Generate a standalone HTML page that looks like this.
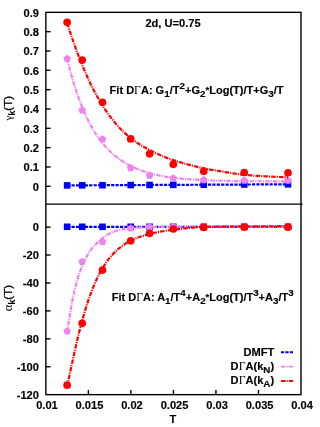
<!DOCTYPE html>
<html><head><meta charset="utf-8"><title>plot</title>
<style>
html,body{margin:0;padding:0;background:#fff;width:320px;height:427px;overflow:hidden}
.t{font-family:"Liberation Sans",sans-serif;font-weight:bold;font-size:11.1px;fill:#000;stroke:#000;stroke-width:0.15px}
.g{font-family:"Liberation Serif",serif;font-weight:normal;font-size:11.8px;stroke:none}
.gy{font-family:"Liberation Serif",serif;font-weight:normal;font-size:11.2px;stroke:none}
.s{font-size:9.9px}
.sk{font-size:8.7px}
.n{font-weight:normal;stroke-width:0.25px;font-size:11.6px}
</style></head><body>
<div style="position:absolute;left:0;top:0;width:320px;height:427px;will-change:transform">
<svg width="320" height="427" viewBox="0 0 320 427" style="position:absolute;left:0;top:0">
<rect width="320" height="427" fill="#fff"/>
<path d="M67.15,185.40 L68.54,185.39 L69.93,185.39 L71.32,185.38 L72.71,185.37 L74.09,185.37 L75.48,185.36 L76.87,185.35 L78.26,185.34 L79.65,185.34 L81.04,185.33 L82.43,185.32 L83.82,185.32 L85.21,185.31 L86.60,185.30 L87.98,185.30 L89.37,185.29 L90.76,185.28 L92.15,185.27 L93.54,185.27 L94.93,185.26 L96.32,185.25 L97.71,185.25 L99.10,185.24 L100.49,185.23 L101.87,185.23 L103.26,185.22 L104.65,185.21 L106.04,185.21 L107.43,185.20 L108.82,185.19 L110.21,185.18 L111.60,185.18 L112.99,185.17 L114.38,185.16 L115.76,185.16 L117.15,185.15 L118.54,185.14 L119.93,185.14 L121.32,185.13 L122.71,185.12 L124.10,185.12 L125.49,185.11 L126.88,185.10 L128.27,185.09 L129.65,185.09 L131.04,185.08 L132.43,185.07 L133.82,185.07 L135.21,185.06 L136.60,185.05 L137.99,185.05 L139.38,185.04 L140.77,185.03 L142.16,185.02 L143.54,185.02 L144.93,185.01 L146.32,185.00 L147.71,185.00 L149.10,184.99 L150.49,184.98 L151.88,184.98 L153.27,184.97 L154.66,184.96 L156.05,184.96 L157.43,184.95 L158.82,184.94 L160.21,184.93 L161.60,184.93 L162.99,184.92 L164.38,184.91 L165.77,184.91 L167.16,184.90 L168.55,184.89 L169.94,184.89 L171.32,184.88 L172.71,184.87 L174.10,184.87 L175.49,184.86 L176.88,184.85 L178.27,184.84 L179.66,184.84 L181.05,184.83 L182.44,184.82 L183.83,184.82 L185.21,184.81 L186.60,184.80 L187.99,184.80 L189.38,184.79 L190.77,184.78 L192.16,184.77 L193.55,184.77 L194.94,184.76 L196.33,184.75 L197.72,184.75 L199.10,184.74 L200.49,184.73 L201.88,184.73 L203.27,184.72 L204.66,184.71 L206.05,184.71 L207.44,184.70 L208.83,184.69 L210.22,184.68 L211.61,184.68 L212.99,184.67 L214.38,184.66 L215.77,184.66 L217.16,184.65 L218.55,184.64 L219.94,184.64 L221.33,184.63 L222.72,184.62 L224.11,184.62 L225.50,184.61 L226.88,184.60 L228.27,184.59 L229.66,184.59 L231.05,184.58 L232.44,184.57 L233.83,184.57 L235.22,184.56 L236.61,184.55 L238.00,184.55 L239.39,184.54 L240.77,184.53 L242.16,184.52 L243.55,184.52 L244.94,184.51 L246.33,184.50 L247.72,184.50 L249.11,184.49 L250.50,184.48 L251.89,184.48 L253.28,184.47 L254.66,184.46 L256.05,184.46 L257.44,184.45 L258.83,184.44 L260.22,184.43 L261.61,184.43 L263.00,184.42 L264.39,184.41 L265.78,184.41 L267.17,184.40 L268.55,184.39 L269.94,184.39 L271.33,184.38 L272.72,184.37 L274.11,184.37 L275.50,184.36 L276.89,184.35 L278.28,184.34 L279.67,184.34 L281.06,184.33 L282.44,184.32 L283.83,184.32 L285.22,184.31 L286.61,184.30 L288.00,184.30" fill="none" stroke="#0000ff" stroke-width="2.2" stroke-dasharray="3.2 1.2"/>
<rect x="63.85" y="182.10" width="6.60" height="6.60" fill="#0000ff"/>
<rect x="78.90" y="182.02" width="6.60" height="6.60" fill="#0000ff"/>
<rect x="99.20" y="181.92" width="6.60" height="6.60" fill="#0000ff"/>
<rect x="127.40" y="181.78" width="6.60" height="6.60" fill="#0000ff"/>
<rect x="146.30" y="181.69" width="6.60" height="6.60" fill="#0000ff"/>
<rect x="170.00" y="181.57" width="6.60" height="6.60" fill="#0000ff"/>
<rect x="200.45" y="181.42" width="6.60" height="6.60" fill="#0000ff"/>
<rect x="240.95" y="181.21" width="6.60" height="6.60" fill="#0000ff"/>
<rect x="284.70" y="181.00" width="6.60" height="6.60" fill="#0000ff"/>
<path d="M67.15,58.69 L68.54,64.38 L69.93,69.78 L71.32,74.90 L72.71,79.78 L74.09,84.42 L75.48,88.83 L76.87,93.02 L78.26,97.01 L79.65,100.81 L81.04,104.44 L82.43,107.86 L83.82,111.14 L85.21,114.28 L86.60,117.26 L87.98,120.10 L89.37,122.81 L90.76,125.40 L92.15,127.87 L93.54,130.22 L94.93,132.48 L96.32,134.62 L97.71,136.67 L99.10,138.63 L100.49,140.51 L101.87,142.30 L103.26,143.99 L104.65,145.62 L106.04,147.19 L107.43,148.69 L108.82,150.12 L110.21,151.47 L111.60,152.76 L112.99,154.01 L114.38,155.21 L115.76,156.36 L117.15,157.47 L118.54,158.52 L119.93,159.52 L121.32,160.47 L122.71,161.39 L124.10,162.27 L125.49,163.12 L126.88,163.93 L128.27,164.70 L129.65,165.44 L131.04,166.15 L132.43,166.82 L133.82,167.47 L135.21,168.10 L136.60,168.70 L137.99,169.27 L139.38,169.82 L140.77,170.34 L142.16,170.84 L143.54,171.32 L144.93,171.78 L146.32,172.22 L147.71,172.65 L149.10,173.05 L150.49,173.43 L151.88,173.80 L153.27,174.16 L154.66,174.50 L156.05,174.83 L157.43,175.14 L158.82,175.44 L160.21,175.72 L161.60,175.99 L162.99,176.26 L164.38,176.52 L165.77,176.77 L167.16,177.01 L168.55,177.24 L169.94,177.44 L171.32,177.63 L172.71,177.80 L174.10,177.95 L175.49,178.09 L176.88,178.23 L178.27,178.36 L179.66,178.49 L181.05,178.61 L182.44,178.73 L183.83,178.85 L185.21,178.96 L186.60,179.07 L187.99,179.17 L189.38,179.27 L190.77,179.36 L192.16,179.45 L193.55,179.54 L194.94,179.63 L196.33,179.71 L197.72,179.79 L199.10,179.87 L200.49,179.94 L201.88,180.01 L203.27,180.08 L204.66,180.14 L206.05,180.21 L207.44,180.27 L208.83,180.32 L210.22,180.38 L211.61,180.43 L212.99,180.48 L214.38,180.53 L215.77,180.58 L217.16,180.62 L218.55,180.66 L219.94,180.70 L221.33,180.74 L222.72,180.77 L224.11,180.81 L225.50,180.85 L226.88,180.89 L228.27,180.93 L229.66,180.96 L231.05,181.00 L232.44,181.03 L233.83,181.06 L235.22,181.09 L236.61,181.11 L238.00,181.14 L239.39,181.16 L240.77,181.17 L242.16,181.19 L243.55,181.20 L244.94,181.20 L246.33,181.21 L247.72,181.22 L249.11,181.22 L250.50,181.23 L251.89,181.23 L253.28,181.24 L254.66,181.24 L256.05,181.25 L257.44,181.25 L258.83,181.26 L260.22,181.26 L261.61,181.26 L263.00,181.27 L264.39,181.27 L265.78,181.27 L267.17,181.28 L268.55,181.28 L269.94,181.28 L271.33,181.29 L272.72,181.29 L274.11,181.29 L275.50,181.29 L276.89,181.29 L278.28,181.29 L279.67,181.30 L281.06,181.30 L282.44,181.30 L283.83,181.30 L285.22,181.30 L286.61,181.30 L288.00,181.30" fill="none" stroke="#ee82ee" stroke-width="2.2" stroke-dasharray="4.5 1.1 1.1 1.1"/>
<polygon points="67.15,54.80 70.95,57.56 69.50,62.04 64.80,62.04 63.35,57.56" fill="#ee82ee"/>
<polygon points="82.20,106.20 86.00,108.96 84.55,113.44 79.85,113.44 78.40,108.96" fill="#ee82ee"/>
<polygon points="102.50,135.30 106.30,138.06 104.85,142.54 100.15,142.54 98.70,138.06" fill="#ee82ee"/>
<polygon points="130.70,164.10 134.50,166.86 133.05,171.34 128.35,171.34 126.90,166.86" fill="#ee82ee"/>
<polygon points="149.60,171.50 153.40,174.26 151.95,178.74 147.25,178.74 145.80,174.26" fill="#ee82ee"/>
<polygon points="173.30,174.30 177.10,177.06 175.65,181.54 170.95,181.54 169.50,177.06" fill="#ee82ee"/>
<polygon points="203.75,176.00 207.55,178.76 206.10,183.24 201.40,183.24 199.95,178.76" fill="#ee82ee"/>
<polygon points="244.25,176.50 248.05,179.26 246.60,183.74 241.90,183.74 240.45,179.26" fill="#ee82ee"/>
<polygon points="288.00,176.50 291.80,179.26 290.35,183.74 285.65,183.74 284.20,179.26" fill="#ee82ee"/>
<path d="M67.15,23.19 L68.54,27.45 L69.93,31.63 L71.32,35.73 L72.71,39.76 L74.09,43.71 L75.48,47.58 L76.87,51.36 L78.26,55.04 L79.65,58.65 L81.04,62.16 L82.43,65.57 L83.82,68.89 L85.21,72.14 L86.60,75.29 L87.98,78.35 L89.37,81.33 L90.76,84.22 L92.15,87.03 L93.54,89.75 L94.93,92.40 L96.32,94.96 L97.71,97.45 L99.10,99.87 L100.49,102.21 L101.87,104.48 L103.26,106.66 L104.65,108.79 L106.04,110.86 L107.43,112.87 L108.82,114.81 L110.21,116.67 L111.60,118.48 L112.99,120.24 L114.38,121.96 L115.76,123.63 L117.15,125.24 L118.54,126.78 L119.93,128.26 L121.32,129.66 L122.71,131.02 L124.10,132.32 L125.49,133.58 L126.88,134.80 L128.27,135.97 L129.65,137.12 L131.04,138.23 L132.43,139.31 L133.82,140.36 L135.21,141.37 L136.60,142.36 L137.99,143.31 L139.38,144.22 L140.77,145.09 L142.16,145.93 L143.54,146.74 L144.93,147.51 L146.32,148.27 L147.71,149.01 L149.10,149.74 L150.49,150.45 L151.88,151.16 L153.27,151.85 L154.66,152.53 L156.05,153.20 L157.43,153.85 L158.82,154.47 L160.21,155.08 L161.60,155.67 L162.99,156.26 L164.38,156.83 L165.77,157.39 L167.16,157.94 L168.55,158.47 L169.94,158.99 L171.32,159.48 L172.71,159.95 L174.10,160.40 L175.49,160.84 L176.88,161.28 L178.27,161.71 L179.66,162.13 L181.05,162.54 L182.44,162.95 L183.83,163.35 L185.21,163.75 L186.60,164.13 L187.99,164.51 L189.38,164.88 L190.77,165.25 L192.16,165.61 L193.55,165.96 L194.94,166.30 L196.33,166.63 L197.72,166.96 L199.10,167.28 L200.49,167.60 L201.88,167.90 L203.27,168.20 L204.66,168.49 L206.05,168.77 L207.44,169.04 L208.83,169.30 L210.22,169.55 L211.61,169.80 L212.99,170.04 L214.38,170.27 L215.77,170.51 L217.16,170.74 L218.55,170.96 L219.94,171.19 L221.33,171.42 L222.72,171.65 L224.11,171.88 L225.50,172.11 L226.88,172.35 L228.27,172.58 L229.66,172.81 L231.05,173.03 L232.44,173.25 L233.83,173.47 L235.22,173.68 L236.61,173.88 L238.00,174.07 L239.39,174.25 L240.77,174.42 L242.16,174.58 L243.55,174.73 L244.94,174.87 L246.33,174.99 L247.72,175.12 L249.11,175.24 L250.50,175.35 L251.89,175.46 L253.28,175.56 L254.66,175.66 L256.05,175.76 L257.44,175.85 L258.83,175.94 L260.22,176.03 L261.61,176.11 L263.00,176.19 L264.39,176.27 L265.78,176.34 L267.17,176.42 L268.55,176.49 L269.94,176.56 L271.33,176.63 L272.72,176.70 L274.11,176.77 L275.50,176.83 L276.89,176.89 L278.28,176.95 L279.67,177.01 L281.06,177.07 L282.44,177.12 L283.83,177.17 L285.22,177.22 L286.61,177.26 L288.00,177.30" fill="none" stroke="#ff0000" stroke-width="2.2" stroke-dasharray="4.5 1.1 1.1 1.1"/>
<circle cx="67.15" cy="22.35" r="3.85" fill="#ff0000"/>
<circle cx="82.20" cy="60.10" r="3.85" fill="#ff0000"/>
<circle cx="102.50" cy="102.30" r="3.85" fill="#ff0000"/>
<circle cx="130.70" cy="138.90" r="3.85" fill="#ff0000"/>
<circle cx="149.60" cy="153.80" r="3.85" fill="#ff0000"/>
<circle cx="173.30" cy="164.30" r="3.85" fill="#ff0000"/>
<circle cx="203.75" cy="171.30" r="3.85" fill="#ff0000"/>
<circle cx="244.25" cy="172.50" r="3.85" fill="#ff0000"/>
<circle cx="288.00" cy="172.75" r="3.85" fill="#ff0000"/>
<path d="M67.15,226.80 L68.54,226.80 L69.93,226.80 L71.32,226.80 L72.71,226.80 L74.09,226.80 L75.48,226.80 L76.87,226.80 L78.26,226.80 L79.65,226.80 L81.04,226.80 L82.43,226.80 L83.82,226.80 L85.21,226.80 L86.60,226.80 L87.98,226.80 L89.37,226.80 L90.76,226.80 L92.15,226.80 L93.54,226.80 L94.93,226.80 L96.32,226.80 L97.71,226.80 L99.10,226.80 L100.49,226.80 L101.87,226.80 L103.26,226.80 L104.65,226.80 L106.04,226.80 L107.43,226.80 L108.82,226.80 L110.21,226.80 L111.60,226.80 L112.99,226.80 L114.38,226.80 L115.76,226.80 L117.15,226.80 L118.54,226.80 L119.93,226.80 L121.32,226.80 L122.71,226.80 L124.10,226.80 L125.49,226.80 L126.88,226.80 L128.27,226.80 L129.65,226.80 L131.04,226.80 L132.43,226.80 L133.82,226.80 L135.21,226.80 L136.60,226.80 L137.99,226.80 L139.38,226.80 L140.77,226.80 L142.16,226.80 L143.54,226.80 L144.93,226.80 L146.32,226.80 L147.71,226.80 L149.10,226.80 L150.49,226.80 L151.88,226.80 L153.27,226.80 L154.66,226.80 L156.05,226.80 L157.43,226.80 L158.82,226.80 L160.21,226.80 L161.60,226.80 L162.99,226.80 L164.38,226.80 L165.77,226.80 L167.16,226.80 L168.55,226.80 L169.94,226.80 L171.32,226.80 L172.71,226.80 L174.10,226.80 L175.49,226.80 L176.88,226.80 L178.27,226.80 L179.66,226.80 L181.05,226.80 L182.44,226.80 L183.83,226.80 L185.21,226.80 L186.60,226.80 L187.99,226.80 L189.38,226.80 L190.77,226.80 L192.16,226.80 L193.55,226.80 L194.94,226.80 L196.33,226.80 L197.72,226.80 L199.10,226.80 L200.49,226.80 L201.88,226.80 L203.27,226.80 L204.66,226.80 L206.05,226.80 L207.44,226.80 L208.83,226.80 L210.22,226.80 L211.61,226.80 L212.99,226.80 L214.38,226.80 L215.77,226.80 L217.16,226.80 L218.55,226.80 L219.94,226.80 L221.33,226.80 L222.72,226.80 L224.11,226.80 L225.50,226.80 L226.88,226.80 L228.27,226.80 L229.66,226.80 L231.05,226.80 L232.44,226.80 L233.83,226.80 L235.22,226.80 L236.61,226.80 L238.00,226.80 L239.39,226.80 L240.77,226.80 L242.16,226.80 L243.55,226.80 L244.94,226.80 L246.33,226.80 L247.72,226.80 L249.11,226.80 L250.50,226.80 L251.89,226.80 L253.28,226.80 L254.66,226.80 L256.05,226.80 L257.44,226.80 L258.83,226.80 L260.22,226.80 L261.61,226.80 L263.00,226.80 L264.39,226.80 L265.78,226.80 L267.17,226.80 L268.55,226.80 L269.94,226.80 L271.33,226.80 L272.72,226.80 L274.11,226.80 L275.50,226.80 L276.89,226.80 L278.28,226.80 L279.67,226.80 L281.06,226.80 L282.44,226.80 L283.83,226.80 L285.22,226.80 L286.61,226.80 L288.00,226.80" fill="none" stroke="#0000ff" stroke-width="2.2" stroke-dasharray="3.2 1.2"/>
<rect x="63.85" y="223.50" width="6.60" height="6.60" fill="#0000ff"/>
<rect x="78.90" y="223.50" width="6.60" height="6.60" fill="#0000ff"/>
<rect x="99.20" y="223.50" width="6.60" height="6.60" fill="#0000ff"/>
<rect x="127.40" y="223.50" width="6.60" height="6.60" fill="#0000ff"/>
<rect x="146.30" y="223.50" width="6.60" height="6.60" fill="#0000ff"/>
<rect x="170.00" y="223.50" width="6.60" height="6.60" fill="#0000ff"/>
<rect x="200.45" y="223.50" width="6.60" height="6.60" fill="#0000ff"/>
<rect x="240.95" y="223.50" width="6.60" height="6.60" fill="#0000ff"/>
<rect x="284.70" y="223.50" width="6.60" height="6.60" fill="#0000ff"/>
<path d="M67.15,332.99 L68.54,323.22 L69.93,314.33 L71.32,306.27 L72.71,298.83 L74.09,292.25 L75.48,286.48 L76.87,281.32 L78.26,276.67 L79.65,272.44 L81.04,268.62 L82.43,265.21 L83.82,262.10 L85.21,259.26 L86.60,256.65 L87.98,254.23 L89.37,251.96 L90.76,249.89 L92.15,248.06 L93.54,246.46 L94.93,245.03 L96.32,243.68 L97.71,242.36 L99.10,241.06 L100.49,239.82 L101.87,238.67 L103.26,237.62 L104.65,236.62 L106.04,235.67 L107.43,234.79 L108.82,233.99 L110.21,233.29 L111.60,232.65 L112.99,232.04 L114.38,231.47 L115.76,230.95 L117.15,230.48 L118.54,230.07 L119.93,229.74 L121.32,229.46 L122.71,229.20 L124.10,228.96 L125.49,228.75 L126.88,228.56 L128.27,228.40 L129.65,228.27 L131.04,228.17 L132.43,228.08 L133.82,227.99 L135.21,227.91 L136.60,227.83 L137.99,227.76 L139.38,227.69 L140.77,227.63 L142.16,227.58 L143.54,227.52 L144.93,227.47 L146.32,227.43 L147.71,227.38 L149.10,227.34 L150.49,227.30 L151.88,227.25 L153.27,227.21 L154.66,227.17 L156.05,227.13 L157.43,227.09 L158.82,227.05 L160.21,227.02 L161.60,226.98 L162.99,226.95 L164.38,226.92 L165.77,226.89 L167.16,226.87 L168.55,226.85 L169.94,226.83 L171.32,226.81 L172.71,226.80 L174.10,226.79 L175.49,226.79 L176.88,226.78 L178.27,226.77 L179.66,226.76 L181.05,226.76 L182.44,226.75 L183.83,226.74 L185.21,226.74 L186.60,226.73 L187.99,226.73 L189.38,226.72 L190.77,226.72 L192.16,226.72 L193.55,226.71 L194.94,226.71 L196.33,226.71 L197.72,226.70 L199.10,226.70 L200.49,226.70 L201.88,226.70 L203.27,226.70 L204.66,226.70 L206.05,226.70 L207.44,226.70 L208.83,226.70 L210.22,226.70 L211.61,226.70 L212.99,226.70 L214.38,226.70 L215.77,226.70 L217.16,226.70 L218.55,226.70 L219.94,226.70 L221.33,226.70 L222.72,226.70 L224.11,226.70 L225.50,226.70 L226.88,226.70 L228.27,226.70 L229.66,226.70 L231.05,226.70 L232.44,226.70 L233.83,226.70 L235.22,226.70 L236.61,226.70 L238.00,226.70 L239.39,226.70 L240.77,226.70 L242.16,226.70 L243.55,226.70 L244.94,226.70 L246.33,226.70 L247.72,226.70 L249.11,226.70 L250.50,226.70 L251.89,226.70 L253.28,226.70 L254.66,226.70 L256.05,226.70 L257.44,226.70 L258.83,226.70 L260.22,226.70 L261.61,226.70 L263.00,226.70 L264.39,226.70 L265.78,226.70 L267.17,226.70 L268.55,226.70 L269.94,226.70 L271.33,226.70 L272.72,226.70 L274.11,226.70 L275.50,226.70 L276.89,226.70 L278.28,226.70 L279.67,226.70 L281.06,226.70 L282.44,226.70 L283.83,226.70 L285.22,226.70 L286.61,226.70 L288.00,226.70" fill="none" stroke="#ee82ee" stroke-width="2.2" stroke-dasharray="4.5 1.1 1.1 1.1"/>
<polygon points="67.15,327.20 70.95,329.96 69.50,334.44 64.80,334.44 63.35,329.96" fill="#ee82ee"/>
<polygon points="82.20,257.80 86.00,260.56 84.55,265.04 79.85,265.04 78.40,260.56" fill="#ee82ee"/>
<polygon points="102.50,237.80 106.30,240.56 104.85,245.04 100.15,245.04 98.70,240.56" fill="#ee82ee"/>
<polygon points="130.70,224.20 134.50,226.96 133.05,231.44 128.35,231.44 126.90,226.96" fill="#ee82ee"/>
<polygon points="149.60,222.90 153.40,225.66 151.95,230.14 147.25,230.14 145.80,225.66" fill="#ee82ee"/>
<polygon points="173.30,222.80 177.10,225.56 175.65,230.04 170.95,230.04 169.50,225.56" fill="#ee82ee"/>
<polygon points="203.75,222.80 207.55,225.56 206.10,230.04 201.40,230.04 199.95,225.56" fill="#ee82ee"/>
<polygon points="244.25,222.80 248.05,225.56 246.60,230.04 241.90,230.04 240.45,225.56" fill="#ee82ee"/>
<polygon points="288.00,222.80 291.80,225.56 290.35,230.04 285.65,230.04 284.20,225.56" fill="#ee82ee"/>
<path d="M67.15,386.75 L68.54,380.02 L69.93,373.36 L71.32,366.76 L72.71,360.23 L74.09,353.87 L75.48,347.68 L76.87,341.65 L78.26,335.86 L79.65,330.26 L81.04,324.88 L82.43,319.76 L83.82,314.85 L85.21,310.14 L86.60,305.65 L87.98,301.41 L89.37,297.35 L90.76,293.50 L92.15,289.86 L93.54,286.41 L94.93,283.13 L96.32,280.04 L97.71,277.13 L99.10,274.36 L100.49,271.73 L101.87,269.27 L103.26,266.98 L104.65,264.80 L106.04,262.71 L107.43,260.74 L108.82,258.90 L110.21,257.21 L111.60,255.61 L112.99,254.08 L114.38,252.63 L115.76,251.25 L117.15,249.95 L118.54,248.73 L119.93,247.60 L121.32,246.54 L122.71,245.53 L124.10,244.57 L125.49,243.67 L126.88,242.81 L128.27,242.01 L129.65,241.25 L131.04,240.55 L132.43,239.87 L133.82,239.23 L135.21,238.63 L136.60,238.06 L137.99,237.51 L139.38,237.00 L140.77,236.52 L142.16,236.05 L143.54,235.62 L144.93,235.20 L146.32,234.80 L147.71,234.42 L149.10,234.06 L150.49,233.72 L151.88,233.39 L153.27,233.07 L154.66,232.77 L156.05,232.49 L157.43,232.21 L158.82,231.95 L160.21,231.70 L161.60,231.45 L162.99,231.21 L164.38,230.98 L165.77,230.76 L167.16,230.54 L168.55,230.34 L169.94,230.14 L171.32,229.96 L172.71,229.79 L174.10,229.62 L175.49,229.46 L176.88,229.30 L178.27,229.14 L179.66,228.98 L181.05,228.82 L182.44,228.66 L183.83,228.51 L185.21,228.36 L186.60,228.21 L187.99,228.07 L189.38,227.93 L190.77,227.80 L192.16,227.68 L193.55,227.57 L194.94,227.46 L196.33,227.36 L197.72,227.27 L199.10,227.19 L200.49,227.12 L201.88,227.06 L203.27,227.01 L204.66,226.98 L206.05,226.94 L207.44,226.91 L208.83,226.88 L210.22,226.85 L211.61,226.82 L212.99,226.79 L214.38,226.76 L215.77,226.73 L217.16,226.71 L218.55,226.69 L219.94,226.66 L221.33,226.64 L222.72,226.62 L224.11,226.60 L225.50,226.58 L226.88,226.56 L228.27,226.55 L229.66,226.53 L231.05,226.52 L232.44,226.50 L233.83,226.49 L235.22,226.47 L236.61,226.46 L238.00,226.45 L239.39,226.44 L240.77,226.43 L242.16,226.41 L243.55,226.40 L244.94,226.39 L246.33,226.39 L247.72,226.38 L249.11,226.37 L250.50,226.36 L251.89,226.35 L253.28,226.34 L254.66,226.33 L256.05,226.32 L257.44,226.31 L258.83,226.30 L260.22,226.29 L261.61,226.29 L263.00,226.28 L264.39,226.27 L265.78,226.26 L267.17,226.26 L268.55,226.25 L269.94,226.24 L271.33,226.24 L272.72,226.23 L274.11,226.23 L275.50,226.22 L276.89,226.22 L278.28,226.21 L279.67,226.21 L281.06,226.21 L282.44,226.20 L283.83,226.20 L285.22,226.20 L286.61,226.20 L288.00,226.20" fill="none" stroke="#ff0000" stroke-width="2.2" stroke-dasharray="4.5 1.1 1.1 1.1"/>
<circle cx="67.15" cy="385.20" r="3.85" fill="#ff0000"/>
<circle cx="82.20" cy="323.30" r="3.85" fill="#ff0000"/>
<circle cx="102.50" cy="270.10" r="3.85" fill="#ff0000"/>
<circle cx="130.70" cy="240.80" r="3.85" fill="#ff0000"/>
<circle cx="149.60" cy="233.30" r="3.85" fill="#ff0000"/>
<circle cx="173.30" cy="229.00" r="3.85" fill="#ff0000"/>
<circle cx="203.75" cy="227.40" r="3.85" fill="#ff0000"/>
<circle cx="244.25" cy="227.20" r="3.85" fill="#ff0000"/>
<circle cx="288.00" cy="227.20" r="3.85" fill="#ff0000"/>
<rect x="45.85" y="12.35" width="255.15" height="382.29999999999995" stroke="#000" stroke-width="1.4" fill="none"/>
<line x1="45.85" y1="204.15" x2="302.5" y2="204.15" stroke="#000" stroke-width="1.4" fill="none"/>
<line x1="45.85" y1="186.30" x2="50.550000000000004" y2="186.30" stroke="#000" stroke-width="1.4" fill="none"/>
<text transform="translate(38.90,190.50) " text-anchor="end" class="t">0</text>
<line x1="45.85" y1="166.97" x2="50.550000000000004" y2="166.97" stroke="#000" stroke-width="1.4" fill="none"/>
<text transform="translate(38.90,171.17) " text-anchor="end" class="t">0.1</text>
<line x1="45.85" y1="147.64" x2="50.550000000000004" y2="147.64" stroke="#000" stroke-width="1.4" fill="none"/>
<text transform="translate(38.90,151.84) " text-anchor="end" class="t">0.2</text>
<line x1="45.85" y1="128.31" x2="50.550000000000004" y2="128.31" stroke="#000" stroke-width="1.4" fill="none"/>
<text transform="translate(38.90,132.51) " text-anchor="end" class="t">0.3</text>
<line x1="45.85" y1="108.98" x2="50.550000000000004" y2="108.98" stroke="#000" stroke-width="1.4" fill="none"/>
<text transform="translate(38.90,113.18) " text-anchor="end" class="t">0.4</text>
<line x1="45.85" y1="89.65" x2="50.550000000000004" y2="89.65" stroke="#000" stroke-width="1.4" fill="none"/>
<text transform="translate(38.90,93.85) " text-anchor="end" class="t">0.5</text>
<line x1="45.85" y1="70.32" x2="50.550000000000004" y2="70.32" stroke="#000" stroke-width="1.4" fill="none"/>
<text transform="translate(38.90,74.52) " text-anchor="end" class="t">0.6</text>
<line x1="45.85" y1="50.99" x2="50.550000000000004" y2="50.99" stroke="#000" stroke-width="1.4" fill="none"/>
<text transform="translate(38.90,55.19) " text-anchor="end" class="t">0.7</text>
<line x1="45.85" y1="31.66" x2="50.550000000000004" y2="31.66" stroke="#000" stroke-width="1.4" fill="none"/>
<text transform="translate(38.90,35.86) " text-anchor="end" class="t">0.8</text>
<text transform="translate(38.90,16.53) " text-anchor="end" class="t">0.9</text>
<line x1="45.85" y1="227.10" x2="50.550000000000004" y2="227.10" stroke="#000" stroke-width="1.4" fill="none"/>
<text transform="translate(38.90,231.30) " text-anchor="end" class="t">0</text>
<line x1="45.85" y1="255.03" x2="50.550000000000004" y2="255.03" stroke="#000" stroke-width="1.4" fill="none"/>
<text transform="translate(38.90,259.23) " text-anchor="end" class="t">-20</text>
<line x1="45.85" y1="282.96" x2="50.550000000000004" y2="282.96" stroke="#000" stroke-width="1.4" fill="none"/>
<text transform="translate(38.90,287.16) " text-anchor="end" class="t">-40</text>
<line x1="45.85" y1="310.89" x2="50.550000000000004" y2="310.89" stroke="#000" stroke-width="1.4" fill="none"/>
<text transform="translate(38.90,315.09) " text-anchor="end" class="t">-60</text>
<line x1="45.85" y1="338.82" x2="50.550000000000004" y2="338.82" stroke="#000" stroke-width="1.4" fill="none"/>
<text transform="translate(38.90,343.02) " text-anchor="end" class="t">-80</text>
<line x1="45.85" y1="366.75" x2="50.550000000000004" y2="366.75" stroke="#000" stroke-width="1.4" fill="none"/>
<text transform="translate(38.90,370.95) " text-anchor="end" class="t">-100</text>
<text transform="translate(38.90,398.88) " text-anchor="end" class="t">-120</text>
<text transform="translate(46.95,409.30) " text-anchor="middle" class="t">0.01</text>
<line x1="88.38" y1="394.65" x2="88.38" y2="389.95" stroke="#000" stroke-width="1.4" fill="none"/>
<text transform="translate(89.47,409.30) " text-anchor="middle" class="t">0.015</text>
<line x1="130.90" y1="394.65" x2="130.90" y2="389.95" stroke="#000" stroke-width="1.4" fill="none"/>
<text transform="translate(132.00,409.30) " text-anchor="middle" class="t">0.02</text>
<line x1="173.43" y1="394.65" x2="173.43" y2="389.95" stroke="#000" stroke-width="1.4" fill="none"/>
<text transform="translate(174.53,409.30) " text-anchor="middle" class="t">0.025</text>
<line x1="215.95" y1="394.65" x2="215.95" y2="389.95" stroke="#000" stroke-width="1.4" fill="none"/>
<text transform="translate(217.05,409.30) " text-anchor="middle" class="t">0.03</text>
<line x1="258.48" y1="394.65" x2="258.48" y2="389.95" stroke="#000" stroke-width="1.4" fill="none"/>
<text transform="translate(259.58,409.30) " text-anchor="middle" class="t">0.035</text>
<text transform="translate(302.10,409.30) " text-anchor="middle" class="t">0.04</text>
<text transform="translate(173.00,422.70) " text-anchor="middle" class="t">T</text>
<text transform="translate(173.00,27.20) " text-anchor="middle" class="t">2d, U=0.75</text>
<text transform="translate(109.60,94.00) scale(0.995,1)" text-anchor="start" class="t">Fit D<tspan class="g">Γ</tspan>A: G<tspan class="s" dy="3.0">1</tspan><tspan dy="-3.0" font-size="0">&#8203;</tspan>/T<tspan class="s" dy="-4.75">2</tspan><tspan dy="4.75" font-size="0">&#8203;</tspan>+G<tspan class="s" dy="3.0">2</tspan><tspan dy="-3.0" font-size="0">&#8203;</tspan><tspan font-size="9.5px" dy="-0.6">*</tspan><tspan dy="0.6">L</tspan>og(T)/T+G<tspan class="s" dy="3.0">3</tspan><tspan dy="-3.0" font-size="0">&#8203;</tspan>/T</text>
<text transform="translate(111.80,300.50) scale(0.99,1)" text-anchor="start" class="t">Fit D<tspan class="g">Γ</tspan>A: A<tspan class="s" dy="3.0">1</tspan><tspan dy="-3.0" font-size="0">&#8203;</tspan>/T<tspan class="s" dy="-4.75">4</tspan><tspan dy="4.75" font-size="0">&#8203;</tspan>+A<tspan class="s" dy="3.0">2</tspan><tspan dy="-3.0" font-size="0">&#8203;</tspan><tspan font-size="9.5px" dy="-0.6">*</tspan><tspan dy="0.6">L</tspan>og(T)/T<tspan class="s" dy="-4.75">3</tspan><tspan dy="4.75" font-size="0">&#8203;</tspan>+A<tspan class="s" dy="3.0">3</tspan><tspan dy="-3.0" font-size="0">&#8203;</tspan>/T<tspan class="s" dy="-4.75">3</tspan><tspan dy="4.75" font-size="0">&#8203;</tspan></text>
<text transform="translate(274.20,355.70) " text-anchor="end" class="t">DMFT</text>
<text transform="translate(274.20,370.00) " text-anchor="end" class="t">D<tspan class="g">Γ</tspan>A(k<tspan class="s" dy="3.0">N</tspan><tspan dy="-3.0" font-size="0">&#8203;</tspan>)</text>
<text transform="translate(274.20,384.40) " text-anchor="end" class="t">D<tspan class="g">Γ</tspan>A(k<tspan class="s" dy="3.0">A</tspan><tspan dy="-3.0" font-size="0">&#8203;</tspan>)</text>
<line x1="281" y1="352.2" x2="293.2" y2="352.2" stroke="#0000ff" stroke-width="1.9" stroke-dasharray="3.2 1.2"/>
<line x1="281" y1="366.6" x2="293.2" y2="366.6" stroke="#ee82ee" stroke-width="1.9" stroke-dasharray="4.5 1.1 1.1 1.1"/>
<line x1="281" y1="381.0" x2="293.2" y2="381.0" stroke="#ff0000" stroke-width="1.9" stroke-dasharray="4.5 1.1 1.1 1.1"/>
<text transform="translate(12.00,120.50) rotate(-90) " text-anchor="start" class="t"><tspan class="gy">γ</tspan><tspan class="sk" dy="3">k</tspan><tspan class="n" dy="-3">(T)</tspan></text>
<text transform="translate(12.00,311.20) rotate(-90) " text-anchor="start" class="t"><tspan class="gy" style="font-size:12.8px">α</tspan><tspan class="sk" dy="3">k</tspan><tspan class="n" dy="-3">(T)</tspan></text>
</svg>
</div>
</body></html>
